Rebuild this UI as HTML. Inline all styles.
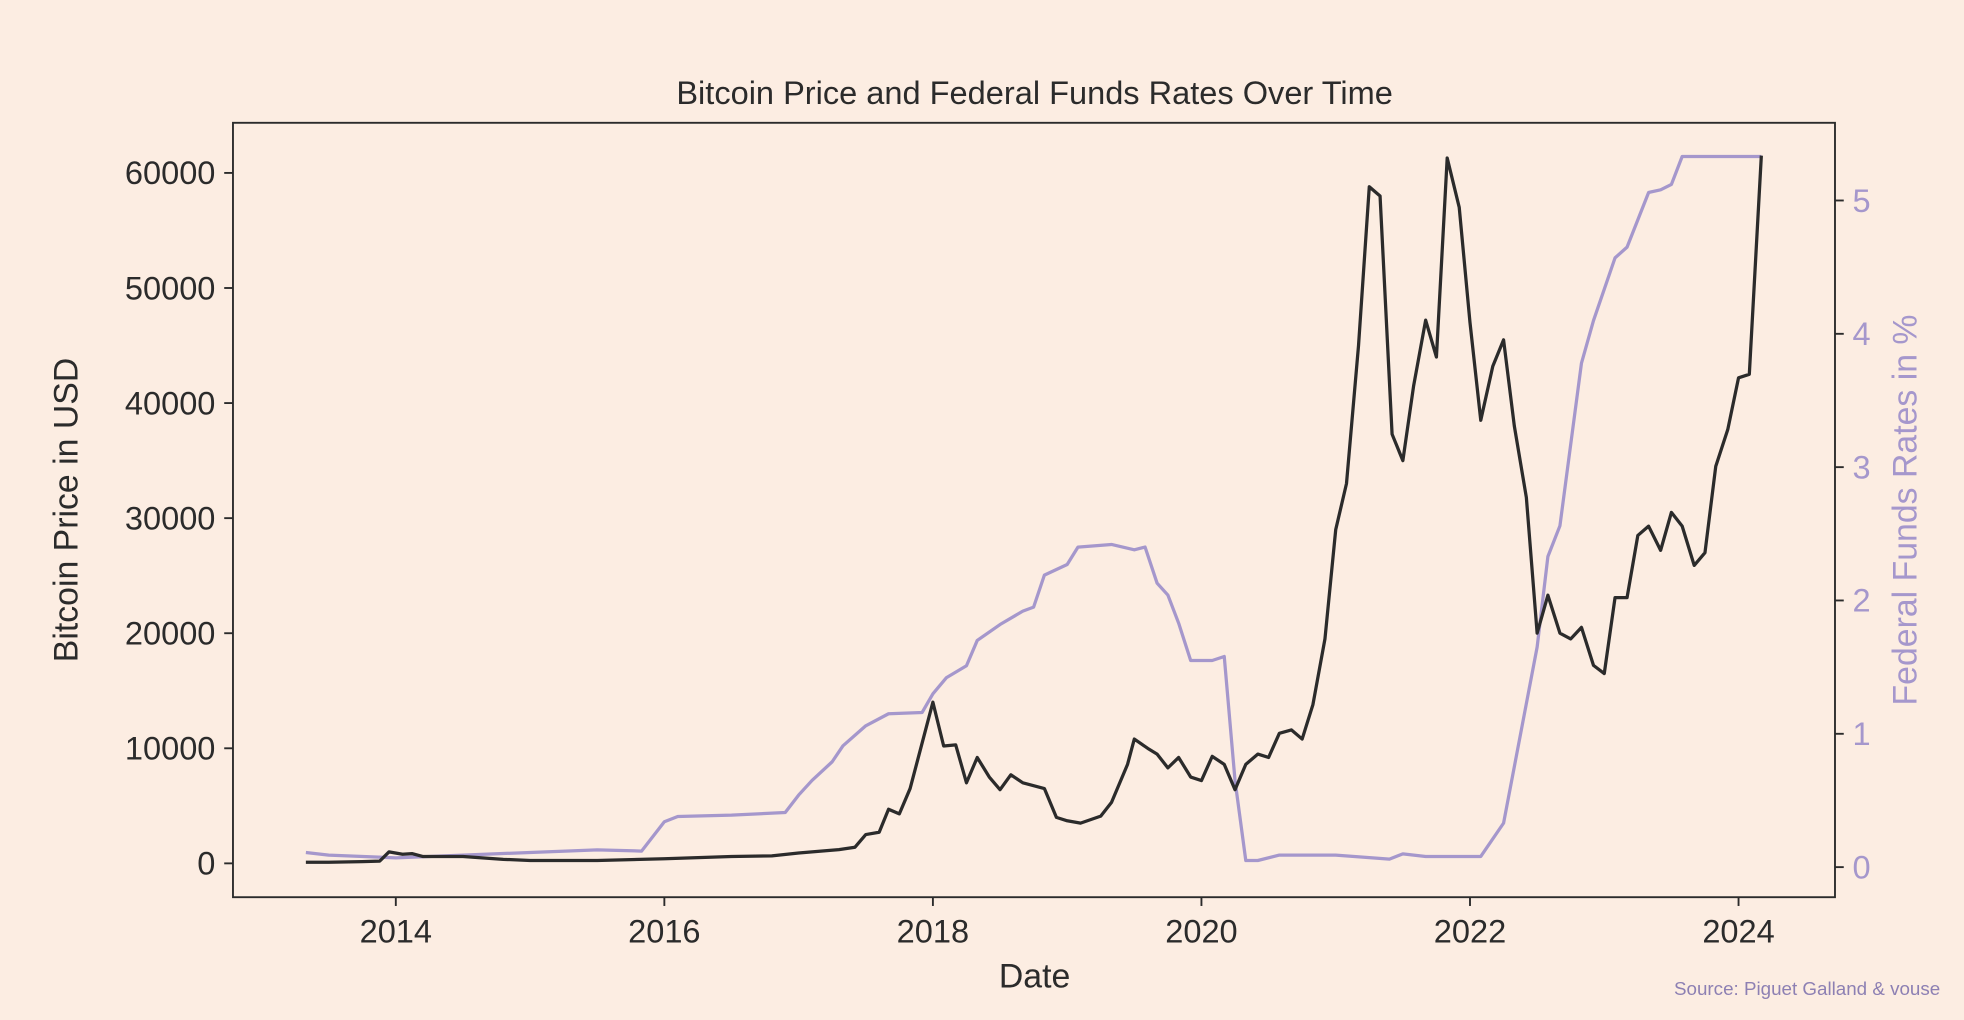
<!DOCTYPE html>
<html><head><meta charset="utf-8"><style>
html,body{margin:0;padding:0;background:#fcede2;width:1964px;height:1020px;overflow:hidden}
svg{display:block;font-family:"Liberation Sans",sans-serif}
</style></head><body>
<svg id="chart" width="1964" height="1020" viewBox="0 0 1568 814" preserveAspectRatio="none">
<rect width="1568" height="814" fill="#fcede2"/>
<text x="826" y="83" text-anchor="middle" font-size="26" fill="#2b2b2b">Bitcoin Price and Federal Funds Rates Over Time</text>
<g id="plot"></g>
<text x="826" y="788" text-anchor="middle" font-size="27" fill="#2b2b2b">Date</text>
<text transform="translate(62,407) rotate(-90)" text-anchor="middle" font-size="27" fill="#2b2b2b">Bitcoin Price in USD</text>
<text transform="translate(1530,407) rotate(-90)" text-anchor="middle" font-size="27" fill="#a597cc">Federal Funds Rates in %</text>
<text x="1549" y="794" text-anchor="end" font-size="15" fill="#8d80b3">Source: Piguet Galland &amp; vouse</text>
</svg>
<script>
const btcYears=[2013.33,2013.5,2013.75,2013.88,2013.95,2014.05,2014.12,2014.2,2014.5,2014.8,2015,2015.5,2016,2016.5,2016.8,2017,2017.2,2017.3,2017.42,2017.5,2017.6,2017.67,2017.75,2017.83,2018.0,2018.08,2018.17,2018.25,2018.33,2018.42,2018.5,2018.58,2018.67,2018.83,2018.92,2019.0,2019.1,2019.25,2019.33,2019.45,2019.5,2019.6,2019.67,2019.75,2019.83,2019.92,2020.0,2020.08,2020.17,2020.25,2020.33,2020.42,2020.5,2020.58,2020.67,2020.75,2020.83,2020.92,2021.0,2021.08,2021.17,2021.25,2021.33,2021.42,2021.5,2021.58,2021.67,2021.75,2021.83,2021.92,2022.0,2022.08,2022.17,2022.25,2022.33,2022.42,2022.5,2022.58,2022.67,2022.75,2022.83,2022.92,2023.0,2023.08,2023.17,2023.25,2023.33,2023.42,2023.5,2023.58,2023.67,2023.75,2023.83,2023.92,2024.0,2024.08,2024.17];
const btcPrices=[100,100,150,200,1000,800,850,600,600,350,250,250,400,600,650,900,1100,1200,1400,2500,2700,4700,4300,6500,14000,10200,10300,7000,9200,7500,6400,7700,7000,6500,4000,3700,3500,4100,5300,8600,10800,10000,9500,8300,9200,7500,7200,9300,8600,6400,8600,9500,9200,11300,11600,10800,13800,19500,29000,33000,45000,58800,58000,37300,35000,41500,47200,44000,61300,57000,47000,38500,43200,45500,38000,31800,20000,23300,20000,19500,20500,17200,16500,23100,23100,28500,29300,27200,30500,29300,25900,27000,34500,37700,42200,42500,61500];
const fedYears=[2013.33,2013.5,2014,2014.5,2015,2015.5,2015.83,2016.0,2016.1,2016.5,2016.9,2017.0,2017.1,2017.25,2017.33,2017.5,2017.67,2017.92,2018.0,2018.1,2018.25,2018.33,2018.5,2018.67,2018.75,2018.83,2019.0,2019.08,2019.33,2019.5,2019.58,2019.67,2019.75,2019.83,2019.92,2020.08,2020.17,2020.25,2020.33,2020.42,2020.58,2021.0,2021.4,2021.5,2021.67,2022.08,2022.25,2022.5,2022.58,2022.67,2022.83,2022.92,2023.08,2023.17,2023.33,2023.42,2023.5,2023.58,2024.17];
const fedRates=[0.11,0.09,0.07,0.09,0.11,0.13,0.12,0.34,0.38,0.39,0.41,0.54,0.65,0.79,0.91,1.06,1.15,1.16,1.30,1.42,1.51,1.70,1.82,1.92,1.95,2.19,2.27,2.40,2.42,2.38,2.40,2.13,2.04,1.83,1.55,1.55,1.58,0.65,0.05,0.05,0.09,0.09,0.06,0.10,0.08,0.08,0.33,1.65,2.33,2.56,3.78,4.10,4.57,4.65,5.06,5.08,5.12,5.33,5.33];
const xTicks=[2014,2016,2018,2020,2022,2024];
const leftTicks=[0,10000,20000,30000,40000,50000,60000];
const rightTicks=[0,1,2,3,4,5];

const NS="http://www.w3.org/2000/svg";
const plot=document.getElementById('plot');
const L=186,R=1465,T=98,B=716;
const xs=y=>316+(y-2014)*107.2;
const yl=v=>689-v*(551/60000);
const yr=v=>692-v*106.4;
function mk(tag,attrs){const e=document.createElementNS(NS,tag);for(const k in attrs)e.setAttribute(k,attrs[k]);plot.appendChild(e);return e;}

let d='';fedYears.forEach((y,i)=>{d+=(i?'L':'M')+xs(y).toFixed(1)+','+yr(fedRates[i]).toFixed(1);});
const fl=mk('path',{d:d,fill:'none',stroke:'#a597cc','stroke-width':2.6,'stroke-linejoin':'round'});


d='';btcYears.forEach((y,i)=>{d+=(i?'L':'M')+xs(y).toFixed(1)+','+yl(btcPrices[i]).toFixed(1);});
const bl=mk('path',{d:d,fill:'none',stroke:'#2b2b2b','stroke-width':2.6,'stroke-linejoin':'round'});



const fr=mk('rect',{x:L,y:T,width:R-L,height:B-T,fill:'none',stroke:'#2b2b2b','stroke-width':1.5});



xTicks.forEach(t=>{
  const x=xs(t);
  const tk=mk('line',{x1:x,x2:x,y1:B,y2:B+7,stroke:'#2b2b2b','stroke-width':1.5});
  
  
  const tx=mk('text',{x:x,y:B+36,'text-anchor':'middle','font-size':26,fill:'#2b2b2b'});
  tx.textContent=t;
  
  
});
leftTicks.forEach(t=>{
  const y=yl(t);
  const tk=mk('line',{x1:L-7,x2:L,y1:y,y2:y,stroke:'#2b2b2b','stroke-width':1.5});
  
  
  const tx=mk('text',{x:L-14,y:y+9,'text-anchor':'end','font-size':26,fill:'#2b2b2b'});
  tx.textContent=t;
  
  
});
rightTicks.forEach(t=>{
  const y=yr(t);
  const tk=mk('line',{x1:R,x2:R+7,y1:y,y2:y,stroke:'#2b2b2b','stroke-width':1.5});
  
  
  const tx=mk('text',{x:R+14,y:y+9,'text-anchor':'start','font-size':26,fill:'#a597cc'});
  tx.textContent=t;
  
  
});
</script>
</body></html>
